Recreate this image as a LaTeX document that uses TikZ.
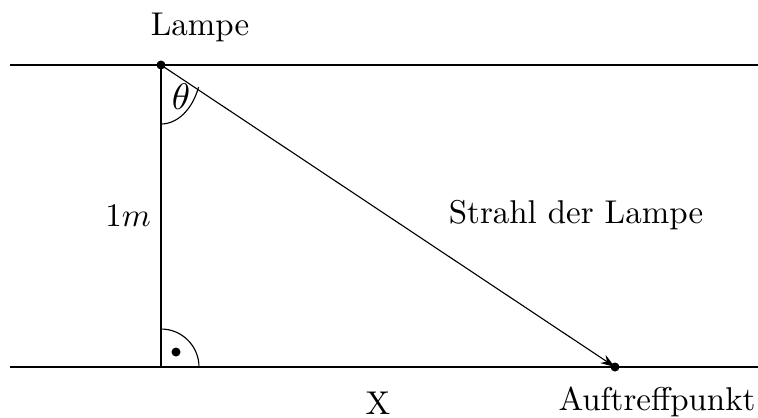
\documentclass[tikz,border=0pt]{standalone}
\usetikzlibrary{arrows.meta}
\begin{document}
\begin{tikzpicture}[x=0.3125pt,y=-0.3125pt,
  thinline/.style={line width=0.35pt},
  dotmark/.style={fill=black},
  every node/.style={scale=1.03}]
\useasboundingbox (0,0) rectangle (758,417);
\coordinate (topL) at (10,65);
\coordinate (topR) at (758,65);
\coordinate (botL) at (10,367);
\coordinate (botR) at (758,367);
\coordinate (lamp) at (161,65);
\coordinate (foot) at (161,367);
\coordinate (hit) at (615,367);
\draw[thinline] (topL) -- (topR);
\draw[thinline] (botL) -- (botR);
\draw[thinline] (lamp) -- (foot);
\draw[thinline,-{Stealth[length=4.5pt,width=3pt]}] (lamp) -- (hit);
\fill[dotmark] (lamp) circle[radius=4.5];
\fill[dotmark] (hit) circle[radius=4.5];
% angle theta
\draw[thinline] (161,124) arc[start angle=90, end angle=22, x radius=40.5, y radius=59];
\node[scale=1.12] (theta) at (181,97) {$\theta$};
% right angle
\draw[thinline] (161,329) arc[start angle=-90, end angle=0, radius=38];
\fill[dotmark] (176,352) circle[radius=4.5];
% labels
\node (lampe) at (200,27) {Lampe};
\node (onem) at (128,216) {$1m$};
\node (strahl) at (576,215) {Strahl der Lampe};
\node (xlab) at (378,403) {X};
\node (auf) at (657,402) {Auftreffpunkt};
\end{tikzpicture}
\end{document}
